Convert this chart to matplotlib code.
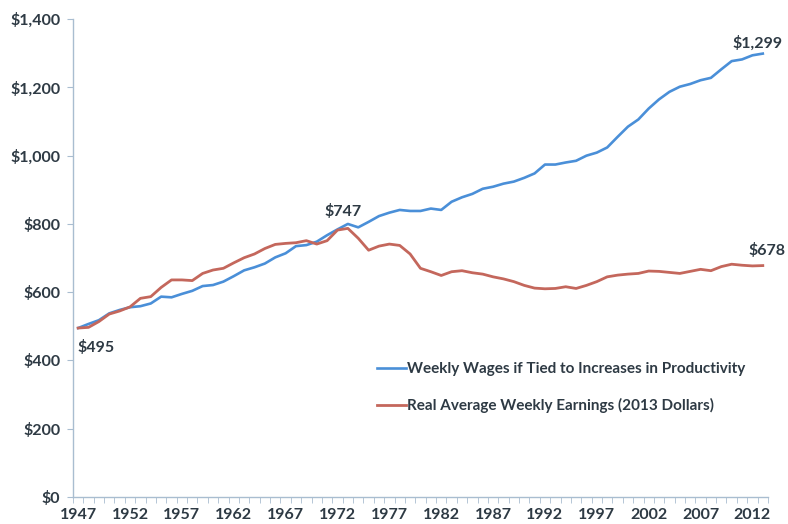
import numpy as np
import matplotlib
matplotlib.use('Agg')
import matplotlib.pyplot as plt
from matplotlib.ticker import FuncFormatter, MultipleLocator

# 数据
years = list(range(1947, 2014))
productivity = [495, 507, 518, 538, 548, 556, 559, 567, 587, 585,
                595, 604, 618, 621, 631, 647, 664, 673, 684, 702,
                714, 735, 738, 748, 767, 784, 800, 790, 806, 823,
                833, 841, 838, 838, 845, 841, 865, 878, 888, 903,
                909, 918, 924, 935, 948, 974, 974, 980, 985, 1000,
                1009, 1024, 1055, 1085, 1106, 1138, 1165, 1187, 1202, 1210,
                1221, 1228, 1253, 1277, 1282, 1294, 1299]
earnings = [495, 497, 514, 536, 545, 557, 582, 587, 614, 636,
            636, 634, 655, 665, 670, 686, 701, 712, 728, 740,
            743, 745, 751, 741, 751, 782, 787, 758, 723, 735,
            741, 737, 712, 670, 660, 649, 660, 663, 657, 653,
            645, 639, 631, 620, 612, 610, 611, 616, 611, 620,
            631, 645, 650, 653, 655, 662, 661, 658, 655, 661,
            667, 663, 675, 682, 679, 677, 678]
labels = ['Weekly Wages if Tied to Increases in Productivity',
          'Real Average Weekly Earnings (2013 Dollars)']
callouts = [('$495', 1948.7, 439), ('$747', 1972.5, 835),
            ('$1,299', 2012.5, 1330), ('$678', 2013.4, 723)]

blue = '#4a8fd8'
red = '#c4675c'
txt = '#2e3a44'
axcol = '#a9bdd0'
fnt = 'Lato'

fig = plt.figure(figsize=(7.88, 5.24), dpi=100)
ax = fig.add_axes([0.0926, 0.0515, 0.882, 0.912])

ax.plot(years, productivity, color=blue, lw=1.9, label=labels[0])
ax.plot(years, earnings, color=red, lw=2.0, label=labels[1])

ax.set_xlim(1946.5, 2013.5)
ax.set_ylim(0, 1400)

ax.yaxis.set_major_locator(MultipleLocator(200))
ax.yaxis.set_major_formatter(FuncFormatter(lambda v, p: '${:,.0f}'.format(v)))
ax.set_xticks(years[::5])
ax.set_xticks(np.arange(1946.5, 2014, 1), minor=True)

for s in ['top', 'right']:
    ax.spines[s].set_visible(False)
for s in ['left', 'bottom']:
    ax.spines[s].set_color(axcol)
    ax.spines[s].set_linewidth(1.0)

ax.tick_params(axis='y', length=4, color=axcol, pad=5, labelsize=11.5, labelcolor=txt)
ax.tick_params(axis='x', which='major', length=0, pad=8, labelsize=11.5, labelcolor=txt)
ax.tick_params(axis='x', which='minor', length=4, color=axcol)
for lab in ax.get_xticklabels() + ax.get_yticklabels():
    lab.set_fontfamily(fnt)
    lab.set_fontweight('bold')

for s, x, y in callouts:
    ax.text(x, y, s, ha='center', va='center', fontsize=11.5, color=txt,
            family=fnt, fontweight='bold')

leg = ax.legend(loc='upper left', bbox_to_anchor=(0.437, 0.282), frameon=False,
                borderaxespad=0, borderpad=0, handlelength=1.9, handletextpad=0.1,
                labelspacing=1.45, prop={'family': fnt, 'weight': 'bold', 'size': 11})
for t in leg.get_texts():
    t.set_color(txt)

fig.savefig('out.png', dpi=100)
